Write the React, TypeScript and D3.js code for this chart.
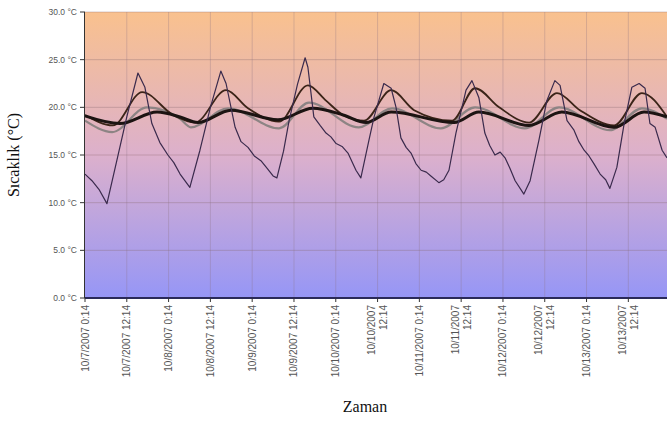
import React, { useEffect, useRef } from 'react';
import * as d3 from 'd3';

// hours after 10/7/2007 0:14 and temperatures (°C)
const ambientHours = [0, 2, 4, 6.3, 9, 12, 15.2, 17.2, 19.2, 21.5, 23.8, 25.5, 27.3, 30.1, 33, 36, 39, 40.5, 43.1, 44.8, 46.8, 48.6, 50.5, 52.3, 54, 55.1, 57, 58.6, 61, 63.2, 64, 65.7, 67.5, 69.2, 70.6, 72.1, 73.8, 75.5, 77.8, 79.2, 81.5, 83, 85.8, 87.9, 89.3, 90.7, 92.2, 93.6, 95, 96.5, 98, 99.3, 101.6, 103, 104.5, 106.5, 109.4, 111.1, 113.1, 114.8, 116.2, 117.7, 119.2, 120.6, 122, 123.5, 126, 127.8, 130.3, 132.6, 134.9, 136.4, 138.4, 140.4, 141.8, 143.3, 144.7, 146.1, 147.9, 149.5, 150.7, 152.7, 154.8, 157, 159.1, 160.8, 162.2, 163.7, 165.7, 167.1];
const ambientTemp = [13.0, 12.3, 11.4, 9.9, 14.2, 19.0, 23.6, 22.1, 18.3, 16.3, 15.0, 14.2, 13.0, 11.6, 15.5, 20.0, 23.8, 22.5, 17.9, 16.4, 15.8, 14.9, 14.4, 13.6, 12.8, 12.6, 15.4, 18.6, 22.4, 25.2, 24.2, 19.0, 18.1, 17.3, 16.9, 16.2, 15.9, 15.2, 13.4, 12.6, 16.5, 19.0, 22.5, 22.0, 20.0, 16.8, 15.8, 15.2, 14.1, 13.4, 13.2, 12.8, 12.1, 12.4, 13.4, 17.3, 21.8, 22.8, 21.0, 17.3, 16.0, 15.0, 15.3, 14.7, 13.6, 12.3, 10.9, 12.3, 16.5, 20.7, 22.8, 22.3, 18.6, 17.6, 16.4, 15.5, 14.9, 14.1, 13.0, 12.4, 11.5, 13.7, 18.3, 22.1, 22.5, 22.0, 18.3, 17.9, 15.5, 14.7];

const brownHours = [0, 8.0, 16.4, 25.3, 31.6, 40.5, 46.8, 55.7, 64.0, 69.2, 74.1, 80.1, 87.9, 94.5, 105.4, 112.0, 118.9, 127.5, 135.5, 142.1, 151.9, 159.9, 167.1];
const brownTemp = [19.2, 18.1, 21.6, 19.2, 18.4, 21.8, 19.9, 18.5, 22.3, 20.7, 19.2, 18.6, 21.8, 19.7, 18.6, 22.0, 20.0, 18.4, 21.5, 19.7, 18.1, 21.5, 19.0];

const grayHours = [0, 7.8, 17.8, 27.3, 30.4, 41.1, 55.7, 64.3, 78.6, 88.2, 102.2, 112.0, 126.3, 136.1, 150.7, 159.9, 167.1];
const grayTemp = [18.6, 17.4, 20.0, 18.8, 17.9, 19.9, 17.8, 20.5, 17.9, 19.9, 17.8, 20.0, 17.8, 20.0, 17.6, 19.9, 18.8];

const blackHours = [0, 10.0, 20.7, 27.3, 32.4, 41.9, 55.4, 65.4, 74.1, 80.7, 87.9, 106.0, 113.1, 127.5, 136.9, 151.9, 160.5, 167.1];
const blackTemp = [19.1, 18.3, 19.5, 19.0, 18.4, 19.7, 18.7, 19.9, 19.2, 18.4, 19.5, 18.4, 19.5, 18.1, 19.5, 17.9, 19.5, 19.0];

const yTicks = [0, 5, 10, 15, 20, 25, 30];
const tickLabels = [
  ['10/7/2007 0:14'], ['10/7/2007 12:14'], ['10/8/2007 0:14'], ['10/8/2007 12:14'],
  ['10/9/2007 0:14'], ['10/9/2007 12:14'], ['10/10/2007 0:14'], ['10/10/2007', '12:14'],
  ['10/11/2007 0:14'], ['10/11/2007', '12:14'], ['10/12/2007 0:14'], ['10/12/2007', '12:14'],
  ['10/13/2007 0:14'], ['10/13/2007', '12:14']
];

const start = new Date(2007, 9, 7, 0, 14);
const at = (h: number) => new Date(start.getTime() + h * 3600 * 1000);

export default function App() {
  const ref = useRef<SVGSVGElement>(null);

  useEffect(() => {
    const width = 667, height = 423;
    const margin = { top: 12, right: 0, bottom: 125, left: 85 };
    const svg = d3.select(ref.current);
    svg.selectAll('*').remove();

    const x = d3.scaleTime().domain([at(0), at(167.1)]).range([margin.left, width - margin.right]);
    const y = d3.scaleLinear().domain([0, 30]).range([height - margin.bottom, margin.top]);

    // background gradient
    const defs = svg.append('defs');
    const grad = defs.append('linearGradient').attr('id', 'bg').attr('x1', 0).attr('y1', 0).attr('x2', 0).attr('y2', 1);
    grad.append('stop').attr('offset', '0%').attr('stop-color', '#f9c18e');
    grad.append('stop').attr('offset', '50%').attr('stop-color', '#dcb0cc');
    grad.append('stop').attr('offset', '100%').attr('stop-color', '#9696f6');

    svg.append('rect')
      .attr('x', margin.left).attr('y', y(30))
      .attr('width', width - margin.left).attr('height', y(0) - y(30))
      .attr('fill', 'url(#bg)');

    // grid
    svg.append('g').selectAll('line').data(yTicks.slice(1)).enter().append('line')
      .attr('x1', margin.left).attr('x2', width)
      .attr('y1', d => y(d)).attr('y2', d => y(d))
      .attr('stroke', '#8a6a70').attr('stroke-opacity', 0.35).attr('stroke-width', 1);

    const tickHours = tickLabels.map((_, i) => i * 12);
    svg.append('g').selectAll('line').data(tickHours.slice(1)).enter().append('line')
      .attr('x1', d => x(at(d))).attr('x2', d => x(at(d)))
      .attr('y1', y(30)).attr('y2', y(0))
      .attr('stroke', '#8a7080').attr('stroke-opacity', 0.3).attr('stroke-width', 1);

    // series
    const drawLine = (hours: number[], temps: number[], color: string, w: number, curve: d3.CurveFactory) => {
      const line = d3.line<number>()
        .x((_, i) => x(at(hours[i])))
        .y(d => y(d))
        .curve(curve);
      svg.append('path')
        .datum(temps)
        .attr('d', line)
        .attr('fill', 'none')
        .attr('stroke', color)
        .attr('stroke-width', w)
        .attr('stroke-linejoin', 'round');
    };
    drawLine(grayHours, grayTemp, '#8d8484', 2.2, d3.curveMonotoneX);
    drawLine(brownHours, brownTemp, '#3b2418', 1.8, d3.curveMonotoneX);
    drawLine(blackHours, blackTemp, '#1c1412', 3, d3.curveMonotoneX);
    drawLine(ambientHours, ambientTemp, '#3a2a4c', 1.2, d3.curveLinear);

    // y axis
    svg.append('line')
      .attr('x1', margin.left - 0.5).attr('x2', margin.left - 0.5)
      .attr('y1', y(30)).attr('y2', y(0))
      .attr('stroke', '#333');
    const yg = svg.append('g');
    yg.selectAll('line').data(yTicks).enter().append('line')
      .attr('x1', margin.left - 5).attr('x2', margin.left)
      .attr('y1', d => y(d)).attr('y2', d => y(d))
      .attr('stroke', '#333');
    yg.selectAll('text').data(yTicks).enter().append('text')
      .attr('x', margin.left - 8).attr('y', d => y(d))
      .attr('dy', '0.35em')
      .attr('text-anchor', 'end')
      .style('font-family', 'Liberation Sans, Arial, sans-serif')
      .style('font-size', '8.5px')
      .attr('fill', '#555')
      .text(d => `${d.toFixed(1)} °C`);

    // x axis
    svg.append('line')
      .attr('x1', margin.left).attr('x2', width)
      .attr('y1', y(0)).attr('y2', y(0))
      .attr('stroke', '#2a2a5a').attr('stroke-width', 2);
    const xg = svg.append('g');
    xg.selectAll('line').data(tickHours).enter().append('line')
      .attr('x1', d => x(at(d))).attr('x2', d => x(at(d)))
      .attr('y1', y(0)).attr('y2', y(0) + 4)
      .attr('stroke', '#333');
    tickLabels.forEach((lines, i) => {
      const cx = x(at(tickHours[i]));
      const n = lines.length;
      lines.forEach((s, j) => {
        const lx = cx + (j - (n - 1) / 2) * 12 + 3.5;
        xg.append('text')
          .attr('transform', `translate(${lx},${y(0) + 7}) rotate(-90)`)
          .attr('text-anchor', 'end')
          .style('font-family', 'Liberation Sans, Arial, sans-serif')
          .style('font-size', '10px')
          .attr('fill', '#555')
          .text(s);
      });
    });

    // titles
    svg.append('text')
      .attr('transform', `translate(19,${(y(0) + y(30)) / 2}) rotate(-90)`)
      .attr('text-anchor', 'middle')
      .style('font-family', 'Liberation Serif, serif')
      .style('font-size', '16px')
      .attr('fill', '#111')
      .text('Sıcaklık (°C)');
    svg.append('text')
      .attr('x', 365).attr('y', 412)
      .attr('text-anchor', 'middle')
      .style('font-family', 'Liberation Serif, serif')
      .style('font-size', '16px')
      .attr('fill', '#111')
      .text('Zaman');
  }, []);

  return (
    <svg ref={ref} width={667} height={423}
      style={{ position: 'absolute', left: 0, top: 0, background: '#fff' }} />
  );
}
